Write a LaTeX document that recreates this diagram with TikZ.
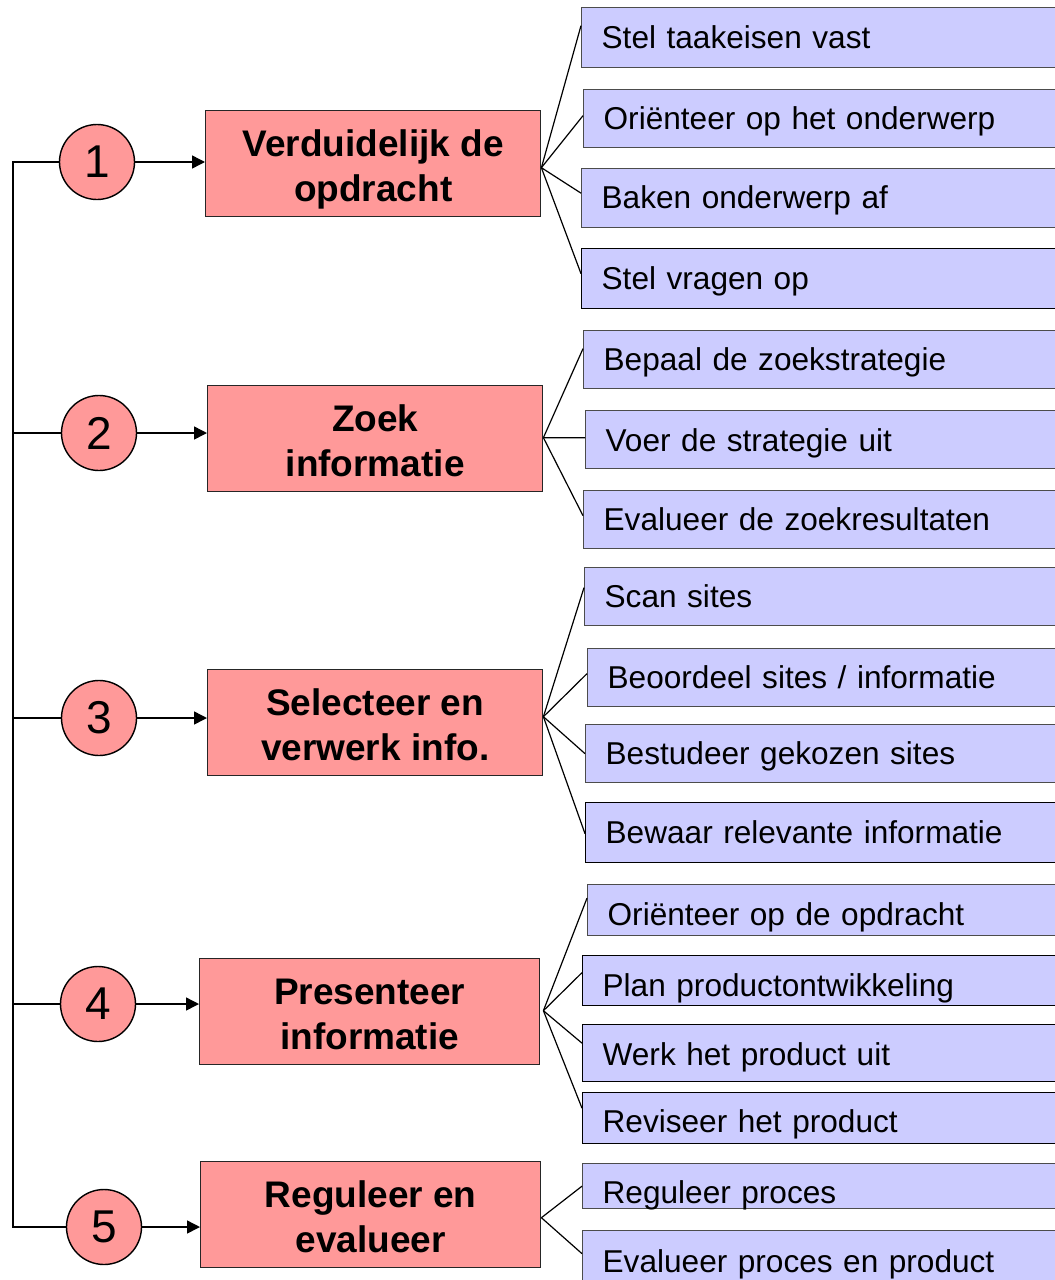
\documentclass[tikz,border=0pt]{standalone}
\usepackage{fontspec}
\setmainfont{Liberation Sans}
\usetikzlibrary{arrows.meta,calc}
\definecolor{redfill}{RGB}{255,153,153}
\definecolor{bluefill}{RGB}{204,204,255}
\newcommand{\redtxt}[2]{\rule{0pt}{39pt}#1\\#2\rule[-8pt]{0pt}{8pt}}
\tikzset{
  redbox/.style={draw=black!85, line width=1.4pt, fill=redfill, anchor=north west,
    minimum width=335pt, minimum height=106pt, align=center,
    font=\fontsize{37}{45}\selectfont\bfseries, inner sep=0pt},
  bluebox/.style={draw=black!70, line width=1.3pt, fill=bluefill, anchor=north west,
    text width=460pt, inner xsep=20pt, inner ysep=0pt, align=left,
    text height=24pt, text depth=5pt,
    font=\fontsize{31.6}{36}\selectfont},
  tdown/.style={text height=#1},
  numcirc/.style={circle, draw=black, line width=1.4pt, fill=redfill, minimum size=75pt,
    inner sep=0pt, font=\fontsize{46}{50}\selectfont},
  conn/.style={line width=1.5pt, black},
  arr/.style={conn, -{Triangle[length=13pt,width=13pt]}},
  fan/.style={line width=1.2pt, black}
}
\begin{document}
\begin{tikzpicture}[x=1pt,y=-1pt]
\useasboundingbox (0,0) rectangle (1055,1280);
\clip (0,0) rectangle (1055,1280);
\fill[white] (0,0) rectangle (1055,1280);

% red boxes
\node[redbox] (r1) at (205,110) {\redtxt{Verduidelijk de}{opdracht}};
\node[redbox] (r2) at (207,385) {\redtxt{Zoek}{informatie}};
\node[redbox] (r3) at (207,669) {\redtxt{Selecteer en}{verwerk info.}};
\node[redbox, minimum width=340pt] (r4) at (199,958) {\redtxt{Presenteer}{informatie}};
\node[redbox, minimum width=340pt] (r5) at (200,1161) {\redtxt{Reguleer en}{evalueer}};

% circles
\node[numcirc] (c1) at (97,162) {1};
\node[numcirc] (c2) at (99,433) {2};
\node[numcirc] (c3) at (99,718) {3};
\node[numcirc] (c4) at (98,1004) {4};
\node[numcirc] (c5) at (104,1227) {5};

% blue boxes
\node[bluebox, minimum height=60pt, tdown=26pt] (b1a) at (581,7) {Stel taakeisen vast};
\node[bluebox, minimum height=58pt, tdown=26pt] (b1b) at (583,89) {Oriënteer op het onderwerp};
\node[bluebox, minimum height=59pt, tdown=26pt] (b1c) at (581,168) {Baken onderwerp af};
\node[bluebox, minimum height=60pt, draw=black, tdown=26pt] (b1d) at (581,248) {Stel vragen op};

\node[bluebox, minimum height=58pt, tdown=26pt] (b2a) at (583,330) {Bepaal de zoekstrategie};
\node[bluebox, minimum height=58pt, tdown=28pt] (b2b) at (585,410) {Voer de strategie uit};
\node[bluebox, minimum height=58pt, tdown=26pt] (b2c) at (583,490) {Evalueer de zoekresultaten};

\node[bluebox, minimum height=58pt, tdown=26pt] (b3a) at (584,567) {Scan sites};
\node[bluebox, minimum height=58pt, tdown=26pt] (b3b) at (587,648) {Beoordeel sites / informatie};
\node[bluebox, minimum height=58pt, tdown=26pt] (b3c) at (585,724) {Bestudeer gekozen sites};
\node[bluebox, minimum height=60pt, draw=black, tdown=26pt] (b3d) at (585,802) {Bewaar relevante informatie};

\node[bluebox, minimum height=51pt, tdown=36pt] (b4a) at (587,884) {Oriënteer op de opdracht};
\node[bluebox, minimum height=50pt, draw=black, tdown=36pt] (b4b) at (582,955) {Plan productontwikkeling};
\node[bluebox, minimum height=57pt, draw=black, tdown=30pt] (b4c) at (582,1024) {Werk het product uit};
\node[bluebox, minimum height=51pt, draw=black, tdown=34pt] (b4d) at (582,1092) {Reviseer het product};

\node[bluebox, minimum height=45pt, tdown=40pt] (b5a) at (582,1163) {Reguleer proces};
\node[bluebox, minimum height=60pt, tdown=28pt] (b5b) at (582,1230) {Evalueer proces en product};

% left trunk
\coordinate (top) at (13,162);
\coordinate (bot) at (13,1227);
\draw[conn] (c1.west) -- (top) -- (bot) -- (c5.west);
\draw[conn] (c2.west) -- (c2.west -| top);
\draw[conn] (c3.west) -- (c3.west -| top);
\draw[conn] (c4.west) -- (c4.west -| top);

% arrows circle -> red box
\draw[arr] (c1.east) -- (c1.east -| r1.west);
\draw[arr] (c2.east) -- (c2.east -| r2.west);
\draw[arr] (c3.east) -- (c3.east -| r3.west);
\draw[arr] (c4.east) -- (c4.east -| r4.west);
\draw[arr] (c5.east) -- (c5.east -| r5.west);

% fans
\coordinate (f1) at ($(r1.east)+(0,4)$);
\draw[fan] (f1) -- ([yshift=12pt]b1a.west);
\draw[fan] (f1) -- ([yshift=3pt]b1b.west);
\draw[fan] (f1) -- ([yshift=5pt]b1c.west);
\draw[fan] (f1) -- ([yshift=5pt]b1d.west);

\coordinate (f2) at ($(r2.east)+(0,-1)$);
\draw[fan] (f2) -- ([yshift=11pt]b2a.west);
\draw[fan] (f2) -- ([yshift=2pt]b2b.west);
\draw[fan] (f2) -- ([yshift=4pt]b2c.west);

\coordinate (f3) at ($(r3.east)+(0,-6)$);
\draw[fan] (f3) -- ([yshift=9pt]b3a.west);
\draw[fan] (f3) -- ([yshift=4pt]b3b.west);
\draw[fan] (f3) -- ([yshift=0pt]b3c.west);
\draw[fan] (f3) -- ([yshift=-1pt]b3d.west);

\coordinate (f4) at ($(r4.east)+(3,-1)$);
\draw[fan] (f4) -- ([yshift=12pt]b4a.west);
\draw[fan] (f4) -- ([yshift=8pt]b4b.west);
\draw[fan] (f4) -- ([yshift=10pt]b4c.west);
\draw[fan] (f4) -- ([yshift=10pt]b4d.west);

\coordinate (f5) at ($(r5.east)+(0,3)$);
\draw[fan] (f5) -- ([yshift=0pt]b5a.west);
\draw[fan] (f5) -- ([yshift=7pt]b5b.west);
\end{tikzpicture}
\end{document}
